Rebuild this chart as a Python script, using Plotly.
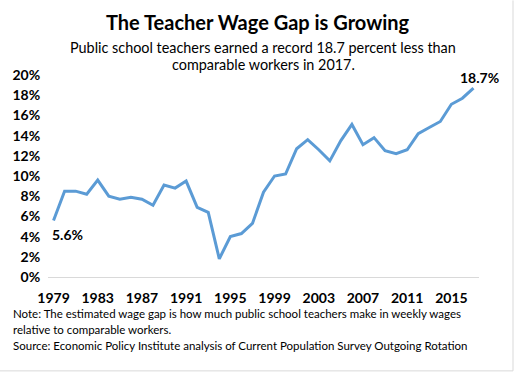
import plotly.graph_objects as go

years = list(range(1979, 2018))
wage_gap = [5.6, 8.5, 8.5, 8.2, 9.6, 8.0, 7.7, 7.9, 7.7, 7.1,
            9.1, 8.8, 9.5, 6.9, 6.4, 1.8, 4.0, 4.3, 5.3, 8.4,
            10.0, 10.2, 12.7, 13.6, 12.6, 11.5, 13.5, 15.1, 13.1, 13.8,
            12.5, 12.2, 12.6, 14.2, 14.8, 15.4, 17.1, 17.7, 18.7]
tick_years = list(range(1979, 2018, 4))
y_ticks = list(range(0, 21, 2))

FONT = "Lato"
W, H = 517, 373
L, R = 48, 479
T, B = 74.7, 277

def px(x):
    return (x - L) / (R - L)

def py(y):
    return (B - y) / (B - T)

fig = go.Figure()
fig.add_trace(go.Scatter(
    x=years, y=wage_gap, mode="lines",
    line=dict(color="#5B9BD5", width=3),
    cliponaxis=False, hoverinfo="skip", showlegend=False))

fig.add_annotation(x=years[0], y=wage_gap[0], text="<b>%.1f%%</b>" % wage_gap[0],
                   showarrow=False, xanchor="center", yanchor="top", xshift=14, yshift=-4,
                   font=dict(family=FONT, size=14, color="#000"))
fig.add_annotation(x=years[-1], y=wage_gap[-1], text="<b>%.1f%%</b>" % wage_gap[-1],
                   showarrow=False, xanchor="center", yanchor="bottom", xshift=6, yshift=0,
                   font=dict(family=FONT, size=14, color="#000"))

fig.add_annotation(xref="paper", yref="paper", x=px(258), y=py(22),
                   text="<b>The Teacher Wage Gap is Growing</b>", showarrow=False,
                   xanchor="center", yanchor="middle",
                   font=dict(family=FONT, size=20, color="#000"))
fig.add_annotation(xref="paper", yref="paper", x=px(263), y=py(47),
                   text="Public school teachers earned a record 18.7 percent less than",
                   showarrow=False, xanchor="center", yanchor="middle",
                   font=dict(family=FONT, size=14.4, color="#000"))
fig.add_annotation(xref="paper", yref="paper", x=px(263), y=py(64),
                   text="comparable workers in 2017.",
                   showarrow=False, xanchor="center", yanchor="middle",
                   font=dict(family=FONT, size=14.4, color="#000"))

notes = ["Note: The estimated wage gap is how much public school teachers make in weekly wages",
         "relative to comparable workers.",
         "Source: Economic Policy Institute analysis of Current Population Survey Outgoing Rotation"]
for t, yy in zip(notes, [314, 330, 346]):
    fig.add_annotation(xref="paper", yref="paper", x=px(11), y=py(yy), text=t,
                       showarrow=False, xanchor="left", yanchor="middle",
                       font=dict(family=FONT, size=11.5, color="#000"))

fig.add_shape(type="line", xref="paper", yref="paper", x0=px(513), x1=px(513), y0=py(0), y1=py(371),
              line=dict(color="#D9D9D9", width=1))
fig.add_shape(type="line", xref="paper", yref="paper", x0=px(0), x1=px(513), y0=py(371), y1=py(371),
              line=dict(color="#D9D9D9", width=1))

fig.update_xaxes(range=[1978.5, 2017.5], tickvals=tick_years,
                 ticktext=["<b>%d</b>" % y for y in tick_years],
                 showgrid=False, zeroline=False, showline=True, linecolor="#D9D9D9", linewidth=1,
                 ticks="outside", ticklen=8, tickcolor="rgba(0,0,0,0)",
                 tickfont=dict(family=FONT, size=14, color="#000"), fixedrange=True)
fig.update_yaxes(range=[0, 20], tickvals=y_ticks,
                 ticktext=["<b>%d%%</b>" % v for v in y_ticks],
                 showgrid=False, zeroline=False, showline=False,
                 ticks="outside", ticklen=4, tickcolor="rgba(0,0,0,0)",
                 tickfont=dict(family=FONT, size=14, color="#000"), fixedrange=True)

fig.update_layout(width=W, height=H,
                  margin=dict(l=L, r=W - R, t=T, b=H - B, pad=0),
                  paper_bgcolor="white", plot_bgcolor="white",
                  showlegend=False)

fig.write_html("out.html", config={"displayModeBar": False})
